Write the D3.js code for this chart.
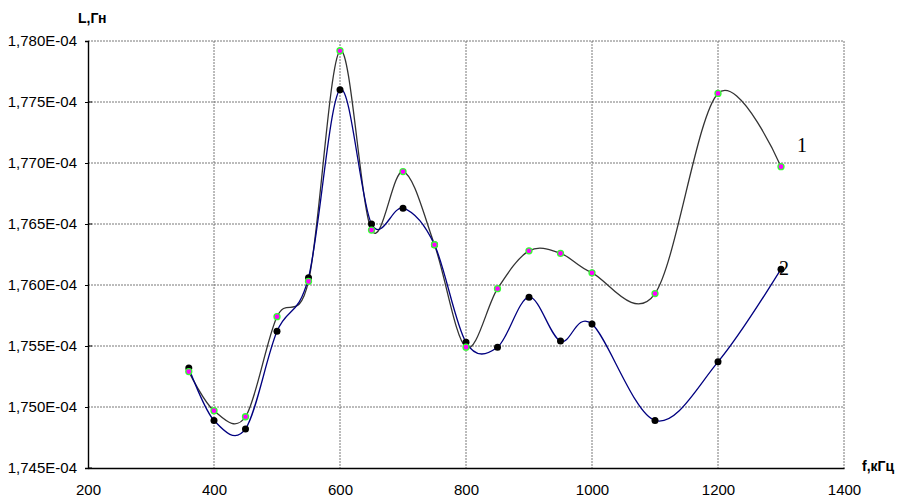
<!DOCTYPE html>
<html>
<head>
<meta charset="utf-8">
<script src="https://cdn.jsdelivr.net/npm/d3@7"></script>
<style>
  body { margin: 0; background: #fff; }
  svg { display: block; font-family: Arial, "Liberation Sans", sans-serif; }
</style>
</head>
<body>
<div id="chart"></div>
<script>
// frequency, kHz
const freq = [360, 400, 450, 500, 550, 600, 650, 700, 750, 800, 850, 900, 950, 1000, 1100, 1200, 1300];
// inductance, H (curve 1 and curve 2)
const series1 = [1.7529, 1.7497, 1.7492, 1.7574, 1.7603, 1.7792, 1.7645, 1.7693, 1.7633, 1.7549, 1.7597, 1.7628, 1.7626, 1.7610, 1.7593, 1.7757, 1.7697].map(v => v * 1e-4);
const series2 = [1.7532, 1.7489, 1.7482, 1.7562, 1.7606, 1.7760, 1.7650, 1.7663, 1.7633, 1.7553, 1.7549, 1.7590, 1.7554, 1.7568, 1.7489, 1.7537, 1.7613].map(v => v * 1e-4);
const xTicks = [200, 400, 600, 800, 1000, 1200, 1400];
const yTicks = [1.745e-4, 1.750e-4, 1.755e-4, 1.760e-4, 1.765e-4, 1.770e-4, 1.775e-4, 1.780e-4];

const width = 900, height = 501;
const svg = d3.select("#chart").append("svg").attr("width", width).attr("height", height);

const x = d3.scaleLinear().domain([200, 1400]).range([88, 844]);
const y = d3.scaleLinear().domain([1.745e-4, 1.780e-4]).range([468, 41]);

const fmt = v => (v * 1e4).toFixed(3).replace(".", ",") + "E-04";

// grid
svg.append("g").selectAll("line")
  .data(yTicks.slice(1))
  .enter().append("line")
  .attr("x1", x(200)).attr("x2", x(1400))
  .attr("y1", d => y(d)).attr("y2", d => y(d))
  .attr("stroke", "#555").attr("stroke-width", 0.8).attr("stroke-dasharray", "2,1");
svg.append("g").selectAll("line")
  .data(xTicks.slice(1))
  .enter().append("line")
  .attr("x1", d => x(d)).attr("x2", d => x(d))
  .attr("y1", y(1.780e-4)).attr("y2", y(1.745e-4) + 2)
  .attr("stroke", "#555").attr("stroke-width", 0.8).attr("stroke-dasharray", "2,1");

// axes
const yAxis = d3.axisLeft(y).tickValues(yTicks).tickSize(3).tickFormat(fmt);
const gy = svg.append("g").attr("transform", `translate(${x(200)},0)`).call(yAxis);
gy.select(".domain").attr("stroke", "#000").attr("stroke-width", 1.4);
gy.selectAll("text").attr("font-size", 15).attr("font-family", "Arial, 'Liberation Sans', sans-serif").attr("fill", "#000").attr("x", -11);

// minor ticks on y axis (inside)
const minor = d3.range(0, 36).map(i => 1.745e-4 + i * 0.1e-5);
svg.append("g").selectAll("line")
  .data(minor)
  .enter().append("line")
  .attr("x1", x(200)).attr("x2", x(200) + 4)
  .attr("y1", d => y(d)).attr("y2", d => y(d))
  .attr("stroke", "#000").attr("stroke-width", 1);

const xAxis = d3.axisBottom(x).tickValues(xTicks).tickSize(0).tickFormat(d3.format("d"));
const gx = svg.append("g").attr("transform", `translate(0,${y(1.745e-4)})`).call(xAxis);
gx.select(".domain").attr("stroke", "#000").attr("stroke-width", 1.4);
gx.selectAll("text").attr("font-size", 15).attr("font-family", "Arial, 'Liberation Sans', sans-serif").attr("fill", "#000").attr("dy", "1.6em");

// axis titles
svg.append("text").attr("x", 78).attr("y", 23).attr("font-size", 14).attr("font-weight", "bold").text("L,Гн");
svg.append("text").attr("x", 862).attr("y", 471).attr("font-size", 14).attr("font-weight", "bold").text("f,кГц");

// curves
const line = (vals) => d3.line()
  .x((d, i) => x(freq[i]))
  .y(d => y(d))
  .curve(d3.curveCardinal.tension(0))(vals);

svg.append("path").attr("d", line(series1))
  .attr("fill", "none").attr("stroke", "#333").attr("stroke-width", 1.3);
svg.append("path").attr("d", line(series2))
  .attr("fill", "none").attr("stroke", "#000080").attr("stroke-width", 1.3);

svg.append("g").selectAll("circle")
  .data(series2)
  .enter().append("circle")
  .attr("cx", (d, i) => x(freq[i])).attr("cy", d => y(d))
  .attr("r", 3.5).attr("fill", "#000");

svg.append("g").selectAll("circle")
  .data(series1)
  .enter().append("circle")
  .attr("cx", (d, i) => x(freq[i])).attr("cy", d => y(d))
  .attr("r", 3).attr("fill", "#ff00ff").attr("stroke", "#33ff33").attr("stroke-width", 1.3);

// curve labels
svg.append("text").attr("x", 797).attr("y", 152).attr("font-size", 20)
  .attr("font-family", "'Liberation Serif', 'DejaVu Serif', serif").text("1");
svg.append("text").attr("x", 779).attr("y", 275).attr("font-size", 20)
  .attr("font-family", "'Liberation Serif', 'DejaVu Serif', serif").text("2");
</script>
</body>
</html>
